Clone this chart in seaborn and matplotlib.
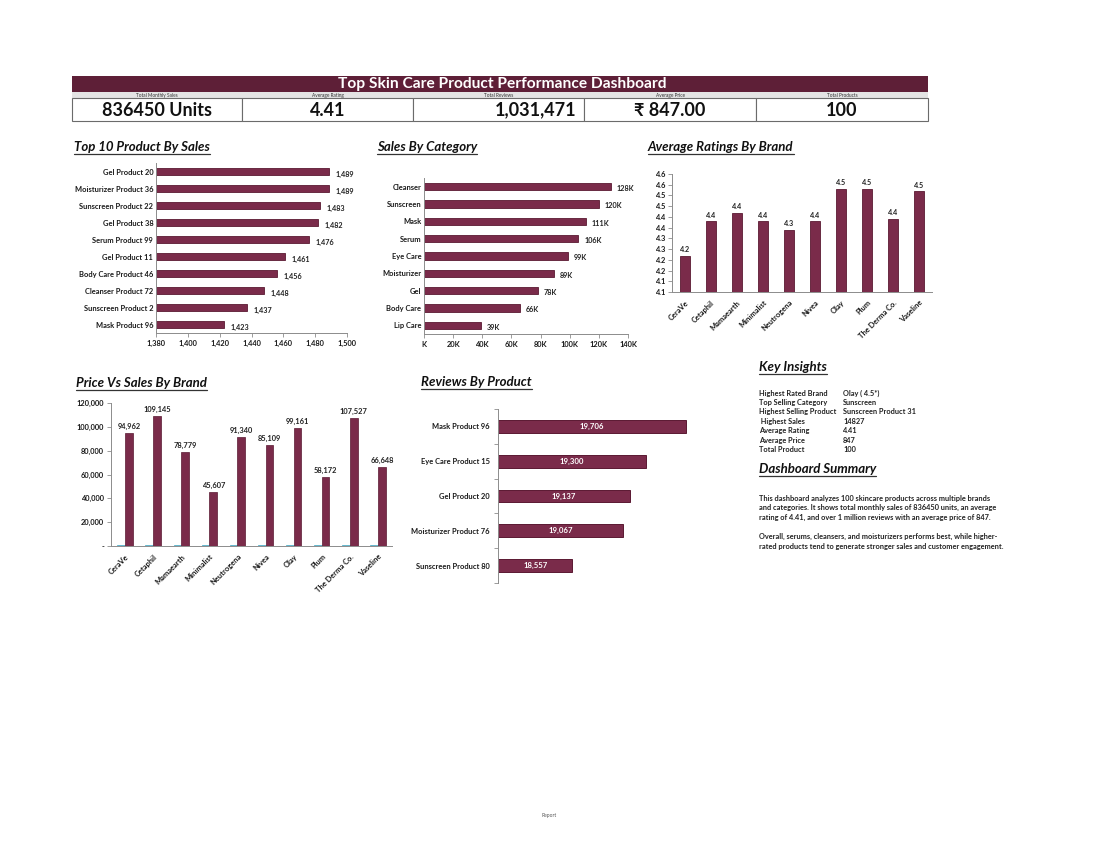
import matplotlib
matplotlib.use("Agg")
from matplotlib import pyplot as plt
from matplotlib.patches import Rectangle
from matplotlib.lines import Line2D
from matplotlib.ticker import FuncFormatter
import numpy as np
import pandas as pd
import seaborn as sns

# ---- data ----
kpi_labels = ["Total Monthly Sales", "Average Rating", "Total Reviews", "Average Price", "Total Products"]
kpi_values = ["836450 Units", "4.41", "1,031,471", "\u20b9 847.00", "100"]

top_products = ["Gel Product 20", "Moisturizer Product 36", "Sunscreen Product 22", "Gel Product 38",
                "Serum Product 99", "Gel Product 11", "Body Care Product 46", "Cleanser Product 72",
                "Sunscreen Product 2", "Mask Product 96"]
top_sales = [1489, 1489, 1483, 1482, 1476, 1461, 1456, 1448, 1437, 1423]

categories = ["Cleanser", "Sunscreen", "Mask", "Serum", "Eye Care", "Moisturizer", "Gel", "Body Care", "Lip Care"]
category_sales = [128000, 120000, 111000, 106000, 99000, 89000, 78000, 66000, 39000]

brands = ["CeraVe", "Cetaphil", "Mamaearth", "Minimalist", "Neutrogena", "Nivea", "Olay", "Plum",
          "The Derma Co.", "Vaseline"]
brand_rating = [4.22, 4.38, 4.42, 4.38, 4.34, 4.38, 4.53, 4.53, 4.39, 4.52]
brand_sales = [94962, 109145, 78779, 45607, 91340, 85109, 99161, 58172, 107527, 66648]
brand_price = [820, 880, 790, 900, 950, 760, 810, 870, 930, 800]

review_products = ["Mask Product 96", "Eye Care Product 15", "Gel Product 20", "Moisturizer Product 76",
                   "Sunscreen Product 80"]
review_counts = [19706, 19300, 19137, 19067, 18557]

insight_keys = ["Highest Rated Brand", "Top Selling Category", "Highest Selling Product", " Highest Sales",
                "Average Rating", "Average Price", "Total Product"]
insight_vals = ["Olay ( 4.5*)", "Sunscreen", "Sunscreen Product 31", "14827", "4.41", "847", "100"]

summary_lines = [
    "This dashboard analyzes 100 skincare products across multiple brands",
    "and categories. It shows total monthly sales of 836450 units, an average",
    "rating of 4.41, and over 1 million reviews with an average price of 847.",
    "",
    "Overall, serums, cleansers, and moisturizers performs best, while higher-",
    "rated products tend to generate stronger sales and customer engagement.",
]

MAROON = "#7a2b4a"
EDGE = "#5a1932"
HEADER = "#5e1f37"
TEAL = "#4bacc6"
AXIS = "#8c8c8c"

sns.set_theme(style="white")
plt.rcParams["font.family"] = ["Lato", "DejaVu Sans"]
plt.rcParams["font.weight"] = "bold"

W, H = 1100, 850
fig = plt.figure(figsize=(11, 8.5), dpi=100)
fig.patch.set_facecolor("white")


def fx(x):
    return x / W


def fy(y):
    return 1 - y / H


def box(x0, y0, x1, y1):
    # axes from pixel corners (top-left origin)
    return fig.add_axes([fx(x0), fy(y1), fx(x1 - x0), (y1 - y0) / H])


def style_axis(ax, left=True, bottom=True):
    for s in ["top", "right"]:
        ax.spines[s].set_visible(False)
    ax.spines["left"].set_visible(left)
    ax.spines["bottom"].set_visible(bottom)
    for s in ["left", "bottom"]:
        ax.spines[s].set_color(AXIS)
        ax.spines[s].set_linewidth(0.7)
    ax.tick_params(axis="both", labelsize=5.4, length=3, width=0.6, color=AXIS, pad=2,
                   labelcolor="#1a1a1a")
    ax.tick_params(axis="x", bottom=bottom)
    ax.tick_params(axis="y", left=left)
    ax.set_xlabel("")
    ax.set_ylabel("")
    ax.grid(False)


titles = []


def title(x, y, s):
    t = fig.text(fx(x), fy(y), s, fontsize=9.5, fontweight="bold", fontstyle="italic",
                 ha="left", va="center", color="#111111")
    titles.append(t)


# ---- header ----
fig.add_artist(Rectangle((fx(72), fy(92)), fx(856), 16 / H, transform=fig.transFigure,
                         facecolor=HEADER, edgecolor="none"))
fig.text(fx(502), fy(84), "Top Skin Care Product Performance Dashboard", color="white",
         fontsize=11.2, fontweight="bold", ha="center", va="center")
fig.add_artist(Rectangle((fx(72), fy(98)), fx(856), 6 / H, transform=fig.transFigure,
                         facecolor="#e4e4e4", edgecolor="none"))
cols = [72, 242, 413, 584, 756, 928]
for i in range(5):
    x0, x1 = cols[i], cols[i + 1]
    fig.text(fx((x0 + x1) / 2), fy(95.3), kpi_labels[i], fontsize=3.4, ha="center", va="center",
             color="#333333", fontweight="normal")
    fig.add_artist(Rectangle((fx(x0), fy(121)), fx(x1 - x0), 23 / H, transform=fig.transFigure,
                             facecolor="white", edgecolor="#6b6b6b", linewidth=0.8))
    if i == 2:
        fig.text(fx(x1 - 8), fy(110), kpi_values[i], fontsize=13, ha="right", va="center",
                 fontweight="bold", color="#111111")
    else:
        fig.text(fx((x0 + x1) / 2), fy(110), kpi_values[i], fontsize=13, ha="center", va="center",
                 fontweight="bold", color="#111111")

# ---- Top 10 Product By Sales ----
title(74, 147, "Top 10 Product By Sales")
ax1 = box(156, 163, 347, 333)
sns.barplot(x=top_sales, y=top_products, color=MAROON, edgecolor=EDGE, linewidth=0.6,
            width=0.42, saturation=1, ax=ax1, orient="h")
ax1.set_xlim(1380, 1500)
ax1.set_xticks(np.arange(1380, 1501, 20))
ax1.xaxis.set_major_formatter(FuncFormatter(lambda v, p: f"{int(v):,}"))
style_axis(ax1)
ax1.tick_params(axis="y", length=0)
for i, v in enumerate(top_sales):
    ax1.text(v + 4, i + 0.2, f"{v:,}", fontsize=5.2, va="center", ha="left", color="#222222")

# ---- Sales By Category ----
title(377, 147, "Sales By Category")
ax2 = box(424, 178, 628, 334)
sns.barplot(x=category_sales, y=categories, color=MAROON, edgecolor=EDGE, linewidth=0.6,
            width=0.42, saturation=1, ax=ax2, orient="h")
ax2.set_xlim(0, 140000)
ax2.set_xticks(np.arange(0, 140001, 20000))
ax2.xaxis.set_major_formatter(FuncFormatter(lambda v, p: f"{int(v / 1000)}K" if v else "K"))
style_axis(ax2)
ax2.tick_params(axis="y", length=0)
for i, v in enumerate(category_sales):
    ax2.text(v + 4000, i + 0.1, f"{int(round(v / 1000))}K", fontsize=5.2, va="center", ha="left",
             color="#222222")

# ---- Average Ratings By Brand ----
title(648, 147, "Average Ratings By Brand")
ax3 = box(672, 174, 932, 292)
sns.barplot(x=brands, y=brand_rating, color=MAROON, edgecolor=EDGE, linewidth=0.6,
            width=0.4, saturation=1, ax=ax3)
ax3.set_ylim(4.05, 4.6)
ax3.set_yticks(np.arange(4.05, 4.601, 0.05))
ax3.yaxis.set_major_formatter(FuncFormatter(lambda v, p: f"{v + 1e-6:.1f}"))
style_axis(ax3)
ax3.tick_params(axis="x", length=0, pad=5)
plt.setp(ax3.get_xticklabels(), rotation=45, ha="right", rotation_mode="anchor")
for i, v in enumerate(brand_rating):
    ax3.text(i, v + 0.012, f"{v:.1f}", fontsize=5.2, ha="center", va="bottom", color="#222222")

# ---- Price Vs Sales By Brand ----
title(76, 383, "Price Vs Sales By Brand")
ax4 = box(111, 403, 392, 546)
price_sales = pd.DataFrame({
    "brand": brands * 2,
    "metric": ["Avg Price"] * len(brands) + ["Sales"] * len(brands),
    "value": brand_price + brand_sales,
})
sns.barplot(data=price_sales, x="brand", y="value", hue="metric", palette=[TEAL, MAROON],
            edgecolor=EDGE, linewidth=0.5, width=0.55, saturation=1, ax=ax4, legend=False)
ax4.set_ylim(0, 120000)
ax4.set_yticks(np.arange(0, 120001, 20000))
ax4.yaxis.set_major_formatter(FuncFormatter(lambda v, p: f"{int(v):,}" if v else "-"))
style_axis(ax4)
ax4.tick_params(axis="x", length=0, pad=5)
plt.setp(ax4.get_xticklabels(), rotation=45, ha="right", rotation_mode="anchor")
for bar in ax4.containers[0]:
    bar.set_edgecolor(TEAL)
ax4.bar_label(ax4.containers[1], labels=[f"{v:,}" for v in brand_sales], fontsize=5.4,
              padding=2, color="#222222")

# ---- Reviews By Product ----
title(421, 382, "Reviews By Product")
ax5 = box(498, 409, 695, 583)
sns.barplot(x=review_counts, y=review_products, color=MAROON, edgecolor=EDGE, linewidth=0.7,
            width=0.37, saturation=1, ax=ax5, orient="h")
ax5.set_xlim(17802, 19800)
style_axis(ax5, left=True, bottom=False)
ax5.set_xticks([])
ax5.set_yticks(np.arange(len(review_products)))
ax5.set_yticklabels(review_products)
ax5.set_yticks(np.arange(-0.5, len(review_products), 1), minor=True)
ax5.tick_params(axis="y", which="major", length=0, pad=6)
ax5.tick_params(axis="y", which="minor", length=3, width=0.6, color=AXIS, left=True)
ax5.set_ylim(len(review_products) - 0.5, -0.5)
ax5.bar_label(ax5.containers[0], labels=[f"{v:,}" for v in review_counts], label_type="center",
              fontsize=5.6, color="white", fontweight="bold")

# ---- Key insights & summary ----
title(759, 367, "Key Insights")
for i, (k, v) in enumerate(zip(insight_keys, insight_vals)):
    y = 393 + i * 9.4
    fig.text(fx(759), fy(y), k, fontsize=5.3, ha="left", va="center", color="#222222")
    fig.text(fx(843), fy(y), v, fontsize=5.3, ha="left", va="center", color="#222222")

title(759, 469, "Dashboard Summary")
for i, line in enumerate(summary_lines):
    fig.text(fx(759), fy(498 + i * 9.7), line, fontsize=5.3, ha="left", va="center", color="#222222")

fig.text(fx(549), fy(815), "Report", fontsize=3.6, ha="center", va="center", color="#555555",
         fontweight="normal")

# underline the section titles
fig.canvas.draw()
for t in titles:
    bb = t.get_window_extent()
    yline = (bb.y0 - 1) / H
    fig.add_artist(Line2D([bb.x0 / W, bb.x1 / W], [yline, yline], transform=fig.transFigure,
                          color="#333333", linewidth=0.9))

fig.savefig("out.png", dpi=100, facecolor="white")
